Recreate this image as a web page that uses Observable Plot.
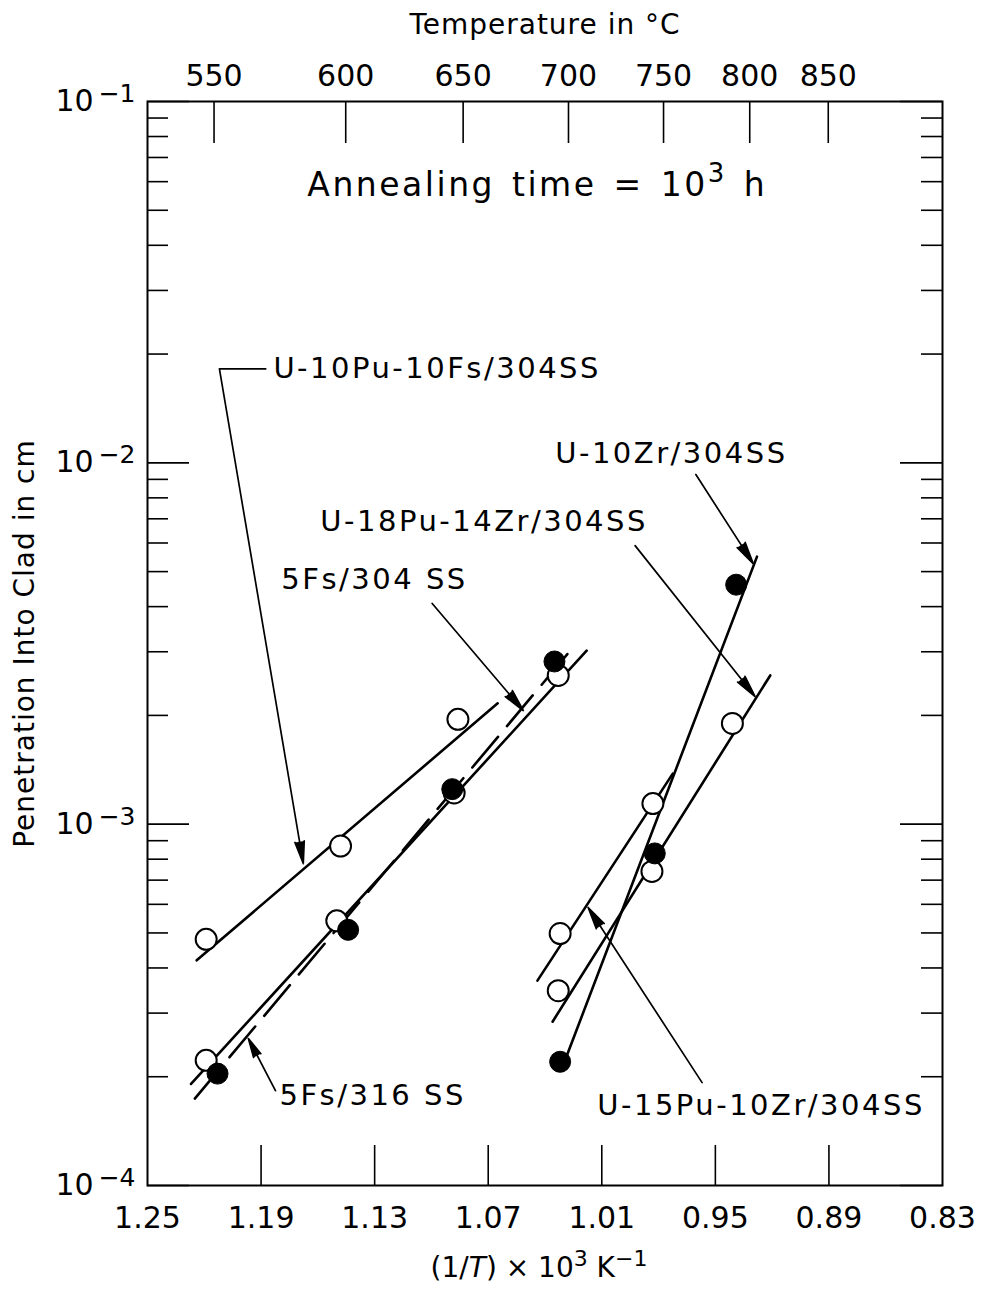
<!DOCTYPE html>
<html><head><meta charset="utf-8">
<script src="https://cdn.jsdelivr.net/npm/d3@7"></script>
<script src="https://cdn.jsdelivr.net/npm/@observablehq/plot@0.6"></script>
<style>body{margin:0;background:#fff} svg{display:block}</style>
</head><body><div id="chart"></div>
<script>
// ---- Data ----
// measured points: series, 1/T x 10^3 (K^-1), penetration depth (cm), filled marker?
const pointSeries = [
  "U-10Pu-10Fs/304SS","U-10Pu-10Fs/304SS","U-10Pu-10Fs/304SS",
  "5Fs/304SS","5Fs/304SS","5Fs/304SS","5Fs/304SS",
  "5Fs/316SS","5Fs/316SS","5Fs/316SS","5Fs/316SS",
  "U-10Zr/304SS","U-10Zr/304SS","U-10Zr/304SS",
  "U-18Pu-14Zr/304SS","U-18Pu-14Zr/304SS","U-18Pu-14Zr/304SS",
  "U-15Pu-10Zr/304SS","U-15Pu-10Zr/304SS"
];
const pointInvT = [1.219,1.148,1.086, 1.219,1.150,1.088,1.033, 1.213,1.144,1.089,1.035, 1.032,0.982,0.939, 1.033,0.9835,0.941, 1.032,0.983];
const pointDepth = [4.8e-4,8.7e-4,1.95e-3, 2.22e-4,5.4e-4,1.22e-3,2.58e-3, 2.04e-4,5.1e-4,1.25e-3,2.82e-3, 2.2e-4,8.3e-4,4.6e-3, 3.46e-4,7.4e-4,1.9e-3, 4.98e-4,1.14e-3];
const pointFilled = [false,false,false, false,false,false,false, true,true,true,true, true,true,true, false,false,false, false,false];

// fitted lines: two end points per series
const lineSeries = ["U-10Pu-10Fs/304SS","U-10Pu-10Fs/304SS","5Fs/304SS","5Fs/304SS","5Fs/316SS","5Fs/316SS","U-10Zr/304SS","U-10Zr/304SS","U-18Pu-14Zr/304SS","U-18Pu-14Zr/304SS","U-15Pu-10Zr/304SS","U-15Pu-10Zr/304SS"];
const lineInvT = [1.224,1.065, 1.227,1.018, 1.225,1.024, 1.029,0.928, 1.036,0.921, 1.044,0.9725];
const lineDepth = [4.2e-4,2.16e-3, 1.91e-4,3.02e-3, 1.74e-4,3.14e-3, 2.25e-4,5.5e-3, 2.84e-4,2.58e-3, 3.69e-4,1.38e-3];
const dashedSeries = ["5Fs/316SS"];

// annotations
const labelText = ["U-10Pu-10Fs/304SS","U-10Zr/304SS","U-18Pu-14Zr/304SS","5Fs/304 SS","5Fs/316 SS","U-15Pu-10Zr/304SS"];
const labelInvT = [1.1835,1.0346,1.1587,1.1793,1.1803,1.0124];
const labelDepth = [1.82e-2,1.06e-2,6.88e-3,4.75e-3,1.77e-4,1.66e-4];
const arrowInvT1 = [1.212,0.9603,0.9924,1.0996,1.1824,0.957];
const arrowDepth1 = [1.82e-2,9.28e-3,5.90e-3,4.08e-3,1.83e-4,1.926e-4];
const arrowInvT2 = [1.1677,0.930,0.929,1.0515,1.1967,1.0172];
const arrowDepth2 = [7.78e-4,5.26e-3,2.255e-3,2.063e-3,2.55e-4,5.88e-4];
const leaderInvT = [1.1872,1.212];
const leaderDepth = [1.82e-2,1.82e-2];
const annealText = "Annealing time = 10^3 h";
const annealInvT = 1.0441, annealDepth = 5.86e-2;

// axes
const xTickVals = [1.25,1.19,1.13,1.07,1.01,0.95,0.89,0.83];
const tempTicks = [550,600,650,700,750,800,850];
const yMajor = [1e-4,1e-3,1e-2,1e-1];
const yMinor = [];
for (const p of [1e-4,1e-3,1e-2]) for (let k = 2; k <= 9; k++) yMinor.push(k * p);

// ---- Tables ----
const points = pointSeries.map((s,i)=>({series:s, invT:pointInvT[i], depth:pointDepth[i], filled:pointFilled[i]}));
const lines = lineSeries.map((s,i)=>({series:s, invT:lineInvT[i], depth:lineDepth[i]}));
const labels = labelText.map((t,i)=>({text:t, invT:labelInvT[i], depth:labelDepth[i]}));
const arrows = arrowInvT1.map((v,i)=>({x1:v, y1:arrowDepth1[i], x2:arrowInvT2[i], y2:arrowDepth2[i]}));
const leader = [{x1:leaderInvT[0], y1:leaderDepth[0], x2:leaderInvT[1], y2:leaderDepth[1]}];

const W = 984, H = 1290, mL = 147, mR = 42, mT = 101, mB = 105;
const fW = W - mL - mR, fH = H - mT - mB;
const FONT = "DejaVu Sans";
const toInvT = t => 1000 / (t + 273.15);

const chart = Plot.plot({
  width: W, height: H,
  marginLeft: mL, marginRight: mR, marginTop: mT, marginBottom: mB,
  style: {fontFamily: FONT, background: "white", color: "black"},
  x: {domain: [1.25, 0.83], axis: null},
  y: {type: "log", domain: [1e-4, 1e-1], axis: null},
  marks: [
    // inward ticks
    Plot.ruleY(yMajor, {y: d=>d, insetRight: fW - 42, stroke: "black", strokeWidth: 1.6}),
    Plot.ruleY(yMajor, {y: d=>d, insetLeft: fW - 42, stroke: "black", strokeWidth: 1.6}),
    Plot.ruleY(yMinor, {y: d=>d, insetRight: fW - 21, stroke: "black", strokeWidth: 1.6}),
    Plot.ruleY(yMinor, {y: d=>d, insetLeft: fW - 21, stroke: "black", strokeWidth: 1.6}),
    Plot.ruleX(xTickVals.slice(1, -1), {x: d=>d, insetTop: fH - 40, stroke: "black", strokeWidth: 1.6}),
    Plot.ruleX(tempTicks, {x: toInvT, insetBottom: fH - 42, stroke: "black", strokeWidth: 1.6}),
    Plot.frame({stroke: "black", strokeWidth: 2}),
    // tick labels
    Plot.text(xTickVals, {x: d=>d, frameAnchor: "bottom", lineAnchor: "middle", dy: 33, text: d=>d.toFixed(2), fontSize: 30, fontFamily: FONT}),
    Plot.text(tempTicks, {x: toInvT, frameAnchor: "top", lineAnchor: "middle", dy: -25, text: t=>String(t), fontSize: 30, fontFamily: FONT}),
    Plot.text(yMajor, {y: d=>d, frameAnchor: "left", lineAnchor: "middle", dx: -12, textAnchor: "end", text: d=>"10^" + Math.round(Math.log10(d)), fontSize: 30, fontFamily: FONT}),
    // axis titles
    Plot.text(["Temperature in °C"], {frameAnchor: "top", lineAnchor: "middle", dy: -76, fontSize: 28, fontFamily: FONT}),
    Plot.text(["(1/T) × 10^3 K^-1"], {frameAnchor: "bottom", lineAnchor: "middle", dx: -6, dy: 83, fontSize: 28, fontFamily: FONT}),
    Plot.text(["Penetration Into Clad in cm"], {frameAnchor: "left", textAnchor: "middle", lineAnchor: "middle", dx: -122, rotate: -90, fontSize: 28, fontFamily: FONT}),
    // fitted lines
    Plot.line(lines.filter(d=>!dashedSeries.includes(d.series)), {x: "invT", y: "depth", z: "series", stroke: "black", strokeWidth: 2.6}),
    Plot.line(lines.filter(d=>dashedSeries.includes(d.series)), {x: "invT", y: "depth", z: "series", stroke: "black", strokeWidth: 2.6, strokeDasharray: "40,14"}),
    // annotation arrows
    Plot.link(leader, {x1: "x1", y1: "y1", x2: "x2", y2: "y2", stroke: "black", strokeWidth: 1.6}),
    Plot.arrow(arrows, {x1: "x1", y1: "y1", x2: "x2", y2: "y2", stroke: "black", fill: "black", strokeWidth: 1.7, headLength: 20, headAngle: 24}),
    // points
    Plot.dot(points.filter(d=>!d.filled), {x: "invT", y: "depth", r: 10.5, fill: "white", stroke: "black", strokeWidth: 2}),
    Plot.dot(points.filter(d=>d.filled), {x: "invT", y: "depth", r: 10.5, fill: "black", stroke: "black", strokeWidth: 1}),
    // labels
    Plot.text(labels, {x: "invT", y: "depth", text: "text", textAnchor: "start", lineAnchor: "middle", fontSize: 29, fontFamily: FONT}),
    Plot.text([annealText], {x: () => annealInvT, y: () => annealDepth, lineAnchor: "middle", fontSize: 33, fontFamily: FONT})
  ]
});
document.getElementById("chart").appendChild(chart);

// ---- rich text (superscripts / italics) ----
function rich(el, segs, fs) {
  const s = d3.select(el);
  s.text(null);
  let raised = 0;
  for (const [t, kind] of segs) {
    const ts = s.append("tspan").text(t);
    if (kind === "sup") {
      const shift = -0.42 * fs;
      ts.attr("font-size", Math.round(fs * 0.78)).attr("dy", shift - raised);
      raised = shift;
    } else {
      if (raised) ts.attr("dy", -raised);
      raised = 0;
      if (kind === "it") ts.attr("font-style", "italic");
    }
  }
}
d3.select(chart).selectAll("text").each(function() {
  const t = this.textContent;
  if (/^10\^-\d$/.test(t)) {
    rich(this, [["10", "n"], ["\u2009\u2212" + t.slice(4), "sup"]], 30);
    d3.select(this).select("tspan:last-child").attr("dy", -9).attr("font-size", 25);
  } else if (t === "(1/T) × 10^3 K^-1") {
    rich(this, [["(1/", "n"], ["T", "it"], [") × 10", "n"], ["3", "sup"], [" K", "n"], ["\u22121", "sup"]], 28);
  } else if (t === annealText) {
    rich(this, [["Annealing time = 10", "n"], ["3", "sup"], [" h", "n"]], 33);
    d3.select(this).attr("letter-spacing", 2.5).attr("word-spacing", 4);
  } else if (labelText.includes(t)) {
    d3.select(this).attr("letter-spacing", 2.5);
  } else if (t === "Temperature in °C") {
    d3.select(this).attr("letter-spacing", 1);
  } else if (t === "Penetration Into Clad in cm") {
    d3.select(this).attr("letter-spacing", 1);
  }
});
</script>
</body></html>
